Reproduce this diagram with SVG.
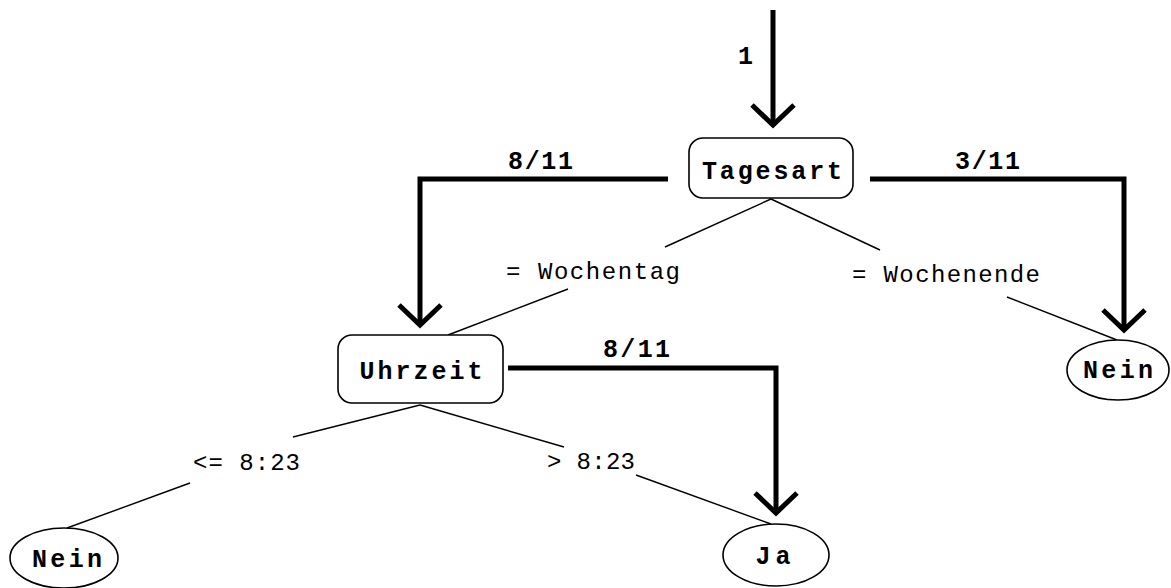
<svg xmlns="http://www.w3.org/2000/svg" width="1171" height="588" viewBox="0 0 1171 588">
<style>
.thick{fill:none;stroke:#000;stroke-width:5;stroke-linejoin:miter}
.thin{fill:none;stroke:#000;stroke-width:1.4}
.node{fill:#fff;stroke:#000;stroke-width:1.6}
.bl{font-family:"Liberation Mono",monospace;font-weight:bold;font-size:25px;fill:#000}
.nl{font-family:"Liberation Mono",monospace;font-weight:bold;font-size:25px;fill:#000;text-anchor:middle}
.cl{font-family:"Liberation Mono",monospace;font-size:24px;fill:#000}
</style>
<defs>
<marker id="arr" markerUnits="userSpaceOnUse" viewBox="-26 -26 30 52" refX="0" refY="0" markerWidth="30" markerHeight="52" orient="auto">
<path d="M-20,-21 L0,0 L-20,21" fill="none" stroke="#000" stroke-width="5"/>
</marker>
</defs>
<rect width="1171" height="588" fill="#fff"/>
<g id="connectors">
<line class="thick" x1="773" y1="10" x2="773" y2="125" marker-end="url(#arr)"/>
<polyline class="thick" points="668,179 420,179 420,325" marker-end="url(#arr)"/>
<polyline class="thick" points="870,179 1124,179 1124,330" marker-end="url(#arr)"/>
<polyline class="thick" points="508,368 776,368 776,513" marker-end="url(#arr)"/>
<line class="thin" x1="771" y1="199" x2="665" y2="247"/>
<line class="thin" x1="568" y1="289" x2="448" y2="335"/>
<line class="thin" x1="771" y1="199" x2="880" y2="250"/>
<line class="thin" x1="1007" y1="297" x2="1117" y2="340"/>
<line class="thin" x1="420" y1="405" x2="293" y2="437"/>
<line class="thin" x1="190" y1="483" x2="67" y2="528"/>
<line class="thin" x1="420" y1="405" x2="564" y2="447"/>
<line class="thin" x1="636" y1="475" x2="771" y2="524"/>
<text class="bl" x="738" y="64" textLength="15">1</text>
<text class="bl" x="508" y="169" textLength="65" lengthAdjust="spacing">8/11</text>
<text class="bl" x="955" y="169" textLength="65" lengthAdjust="spacing">3/11</text>
<text class="bl" x="603" y="357" textLength="67" lengthAdjust="spacing">8/11</text>
<text class="cl" x="506" y="279" textLength="174" lengthAdjust="spacing">= Wochentag</text>
<text class="cl" x="852" y="282" textLength="188" lengthAdjust="spacing">= Wochenende</text>
<text class="cl" x="193" y="470" textLength="107" lengthAdjust="spacing">&lt;= 8:23</text>
<text class="cl" x="547" y="469" textLength="88" lengthAdjust="spacing">&gt; 8:23</text>
</g>
<g id="tagesart">
<rect class="node" x="689" y="138" width="164" height="60" rx="14"/>
<text class="nl" x="772" y="179" textLength="140" lengthAdjust="spacing">Tagesart</text>
</g>
<g id="uhrzeit">
<rect class="node" x="338" y="335" width="165" height="68" rx="14"/>
<text class="nl" x="421" y="379" textLength="123" lengthAdjust="spacing">Uhrzeit</text>
</g>
<g id="nein-right">
<ellipse class="node" cx="1118" cy="370" rx="51" ry="30"/>
<text class="nl" x="1118" y="378" textLength="70" lengthAdjust="spacing">Nein</text>
</g>
<g id="nein-left">
<ellipse class="node" cx="64" cy="558" rx="54" ry="30"/>
<text class="nl" x="67" y="567" textLength="70" lengthAdjust="spacing">Nein</text>
</g>
<g id="ja">
<ellipse class="node" cx="776" cy="555" rx="53" ry="31"/>
<text class="nl" x="773" y="564" textLength="35" lengthAdjust="spacing">Ja</text>
</g>
</svg>
